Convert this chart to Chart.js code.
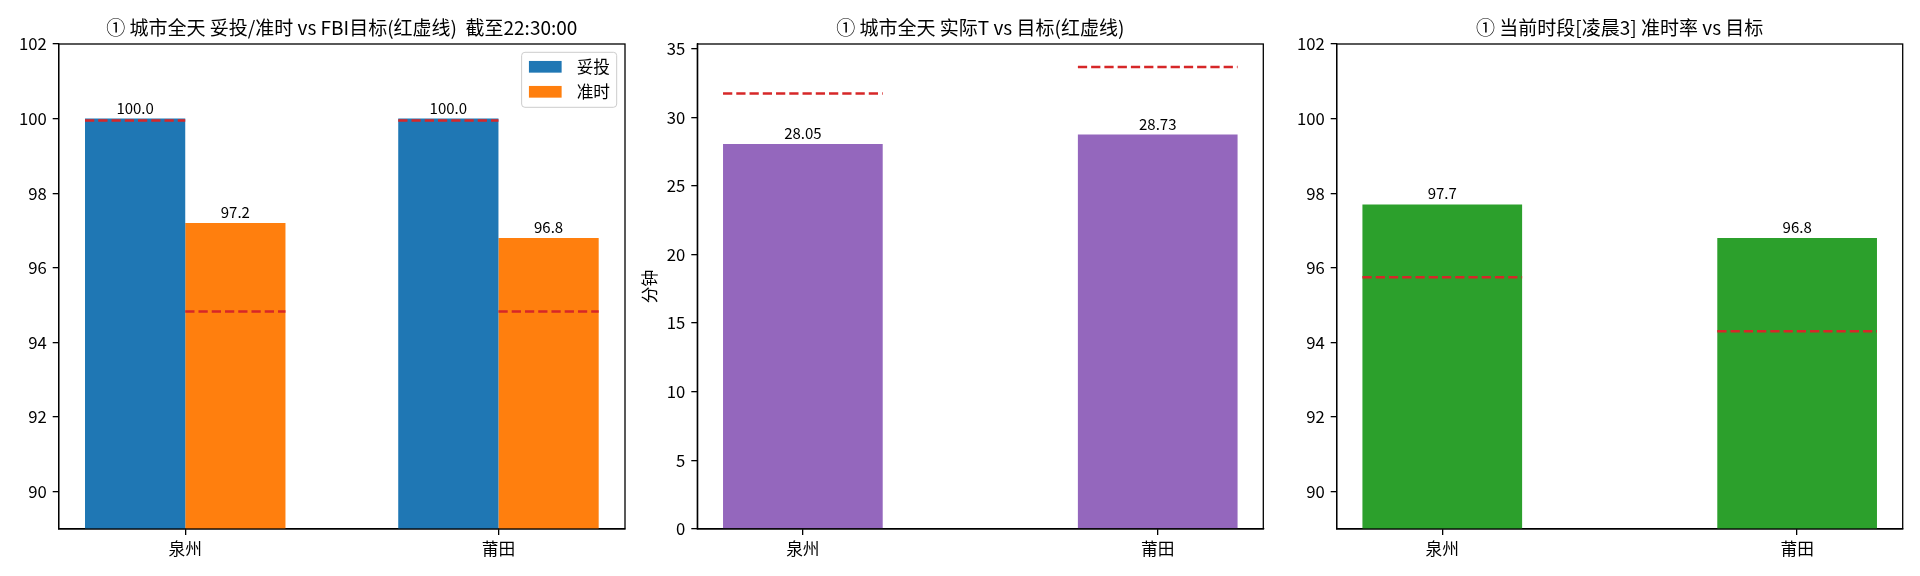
<!DOCTYPE html>
<html>
<head>
<meta charset="utf-8">
<script src="https://cdn.jsdelivr.net/npm/chart.js@4.4.1/dist/chart.umd.min.js"></script>
<style>
  html, body { margin: 0; padding: 0; background: #fff; }
  #wrap { position: relative; width: 1920px; height: 576px; }
  canvas { position: absolute; top: 0; }
</style>
</head>
<body>
<div id="wrap">
  <canvas id="c1" width="640" height="576" style="left:0px"></canvas>
  <canvas id="c2" width="640" height="576" style="left:640px"></canvas>
  <canvas id="c3" width="640" height="576" style="left:1280px"></canvas>
</div>
<script>
// DATA
const cities = ["泉州", "莆田"];
const deliveredRate = [100.0, 100.0];
const onTimeRate = [97.2, 96.8];
const deliveredTarget = [99.95, 99.95];
const onTimeTarget = [94.83, 94.83];
const actualMinutes = [28.05, 28.73];
const targetMinutes = [31.72, 33.65];
const periodOnTime = [97.7, 96.8];
const periodTarget = [95.75, 94.3];
const rateTicks = [90, 92, 94, 96, 98, 100, 102];
const minuteTicks = [0, 5, 10, 15, 20, 25, 30, 35];

const FONT = '"Noto Sans CJK SC", "Noto Sans", sans-serif';
Chart.defaults.font.family = FONT;
Chart.defaults.color = "#000";

const points = (arr) => arr.map((v, i) => ({ x: i, y: v }));

// value text above each bar + red dashed target across the bar
const barExtras = {
  id: "barExtras",
  afterDatasetsDraw(chart, args, opts) {
    const ctx = chart.ctx;
    const yScale = chart.scales.y;
    chart.data.datasets.forEach((ds, di) => {
      const meta = chart.getDatasetMeta(di);
      meta.data.forEach((bar, i) => {
        const { x, y, width } = bar.getProps(["x", "y", "width"], true);
        ctx.save();
        ctx.font = "15px " + FONT;
        ctx.fillStyle = "#000";
        ctx.textAlign = "center";
        ctx.textBaseline = "alphabetic";
        ctx.fillText(ds.data[i].y.toFixed(opts.decimals), x, y - 5);
        ctx.restore();
        if (ds.target) {
          const ty = yScale.getPixelForValue(ds.target[i]);
          ctx.save();
          ctx.strokeStyle = "#d62728";
          ctx.lineWidth = 2.5;
          ctx.setLineDash([9.25, 4]);
          ctx.beginPath();
          ctx.moveTo(x - width / 2, ty);
          ctx.lineTo(x + width / 2, ty);
          ctx.stroke();
          ctx.restore();
        }
      });
    });
  },
};

// full axes box
const axesFrame = {
  id: "axesFrame",
  afterDraw(chart) {
    const { ctx, chartArea: a } = chart;
    ctx.save();
    ctx.strokeStyle = "#000";
    ctx.lineWidth = 1.3;
    ctx.strokeRect(a.left, a.top, a.right - a.left, a.bottom - a.top);
    ctx.restore();
  },
};

// matplotlib-like legend box in the upper right
const boxLegend = {
  id: "boxLegend",
  afterDraw(chart, args, opts) {
    if (!opts.display) return;
    const { ctx, chartArea: a } = chart;
    const fs = 16.7;
    ctx.save();
    ctx.font = fs + "px " + FONT;
    const labels = chart.data.datasets.map((d) => d.label);
    const tw = Math.max(...labels.map((l) => ctx.measureText(l).width));
    const w = 7.3 + 32.7 + 15 + tw + 6.7;
    const h = 55;
    const right = a.right - 8.3;
    const top = a.top + 8.3;
    const left = right - w;
    const r = 3.3;
    ctx.beginPath();
    ctx.moveTo(left + r, top);
    ctx.lineTo(right - r, top);
    ctx.arcTo(right, top, right, top + r, r);
    ctx.lineTo(right, top + h - r);
    ctx.arcTo(right, top + h, right - r, top + h, r);
    ctx.lineTo(left + r, top + h);
    ctx.arcTo(left, top + h, left, top + h - r, r);
    ctx.lineTo(left, top + r);
    ctx.arcTo(left, top, left + r, top, r);
    ctx.closePath();
    ctx.fillStyle = "rgba(255,255,255,0.8)";
    ctx.fill();
    ctx.strokeStyle = "#cccccc";
    ctx.lineWidth = 1;
    ctx.stroke();
    chart.data.datasets.forEach((d, i) => {
      const cy = top + 14.5 + i * 25;
      ctx.fillStyle = d.backgroundColor;
      ctx.fillRect(left + 7.3, cy - 5.85, 32.7, 11.7);
      ctx.fillStyle = "#000";
      ctx.textAlign = "left";
      ctx.textBaseline = "middle";
      ctx.fillText(d.label, left + 7.3 + 32.7 + 15, cy);
    });
    ctx.restore();
  },
};

function makeScales(xMin, xMax, yMin, yMax, yTicks, yWidth, yTitle) {
  const axisGrid = { drawOnChartArea: false, tickLength: 6, color: "#000", lineWidth: 1.3, offset: false };
  return {
    x: {
      type: "linear",
      min: xMin,
      max: xMax,
      offset: false,
      afterBuildTicks: (s) => { s.ticks = cities.map((c, i) => ({ value: i })); },
      afterFit: (s) => { s.height = 47; },
      ticks: { callback: (v) => cities[v], font: { size: 16.7 }, padding: 4, maxRotation: 0, autoSkip: false },
      grid: axisGrid,
      border: { color: "#000", width: 1.3 },
    },
    y: {
      min: yMin,
      max: yMax,
      afterBuildTicks: (s) => { s.ticks = yTicks.map((v) => ({ value: v })); },
      afterFit: (s) => { s.width = yWidth; },
      ticks: { callback: (v) => String(v), font: { size: 16.7 }, padding: 6, autoSkip: false },
      grid: axisGrid,
      border: { color: "#000", width: 1.3 },
      title: {
        display: !!yTitle,
        text: yTitle || "",
        font: { size: 16.7 },
        padding: { top: 0, bottom: 0 },
      },
    },
  };
}

function makeOptions(titleText, scales, rightPad, decimals, showLegend) {
  return {
    responsive: false,
    animation: false,
    devicePixelRatio: 1,
    layout: { padding: { left: 0, right: rightPad, top: 0, bottom: 0 } },
    scales: scales,
    plugins: {
      legend: { display: false },
      tooltip: { enabled: false },
      title: {
        display: true,
        text: titleText,
        fullSize: false,
        color: "#000",
        font: { size: 19, weight: "normal" },
        padding: { top: 16, bottom: 5.2 },
      },
      barExtras: { decimals: decimals },
      boxLegend: { display: showLegend },
    },
  };
}

const plugins = [barExtras, axesFrame, boxLegend];

// CHART 1
new Chart(document.getElementById("c1"), {
  type: "bar",
  data: {
    datasets: [
      {
        label: "妥投",
        data: points(deliveredRate),
        target: deliveredTarget,
        backgroundColor: "#1f77b4",
        categoryPercentage: 0.64,
        barPercentage: 1.0,
      },
      {
        label: "准时",
        data: points(onTimeRate),
        target: onTimeTarget,
        backgroundColor: "#ff7f0e",
        categoryPercentage: 0.64,
        barPercentage: 1.0,
      },
    ],
  },
  options: makeOptions(
    "① 城市全天 妥投/准时 vs FBI目标(红虚线)  截至22:30:00",
    makeScales(-0.404, 1.404, 89, 102, rateTicks, 58.7, null),
    15, 1, true
  ),
  plugins: plugins,
});

// CHART 2
new Chart(document.getElementById("c2"), {
  type: "bar",
  data: {
    datasets: [
      {
        label: "实际T",
        data: points(actualMinutes),
        target: targetMinutes,
        backgroundColor: "#9467bd",
        categoryPercentage: 0.45,
        barPercentage: 1.0,
      },
    ],
  },
  options: makeOptions(
    "① 城市全天 实际T vs 目标(红虚线)",
    makeScales(-0.2975, 1.2975, 0, 35.33, minuteTicks, 57.3, "分钟"),
    16.7, 2, false
  ),
  plugins: plugins,
});

// CHART 3
new Chart(document.getElementById("c3"), {
  type: "bar",
  data: {
    datasets: [
      {
        label: "准时率",
        data: points(periodOnTime),
        target: periodTarget,
        backgroundColor: "#2ca02c",
        categoryPercentage: 0.45,
        barPercentage: 1.0,
      },
    ],
  },
  options: makeOptions(
    "① 当前时段[凌晨3] 准时率 vs 目标",
    makeScales(-0.2975, 1.2975, 89, 102, rateTicks, 56.7, null),
    17.3, 1, false
  ),
  plugins: plugins,
});
</script>
</body>
</html>
